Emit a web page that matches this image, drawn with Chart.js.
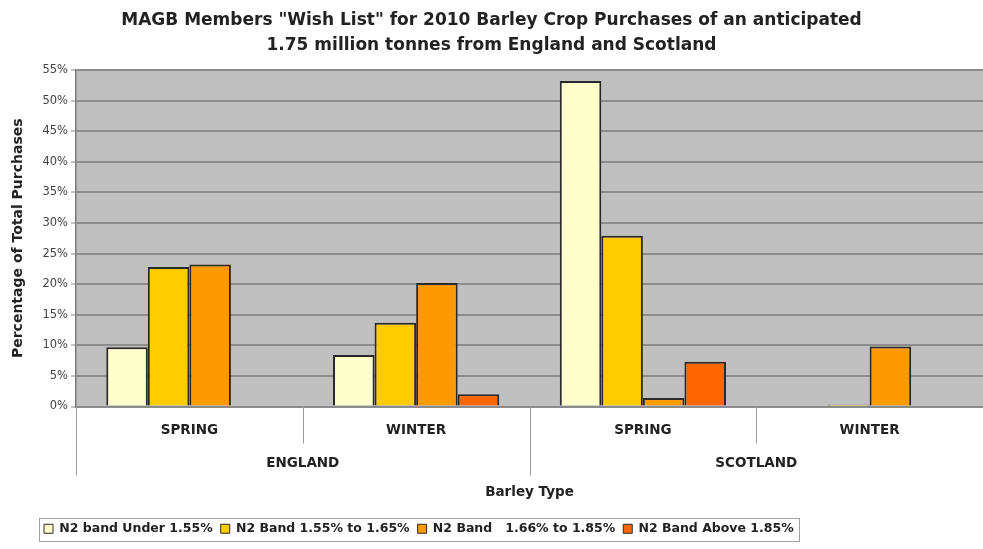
<!DOCTYPE html>
<html>
<head>
<meta charset="utf-8">
<script src="https://cdn.jsdelivr.net/npm/chart.js@4/dist/chart.umd.min.js"></script>
<style>
  html, body { margin: 0; padding: 0; background: #fff; overflow: hidden; }
  #wrap { width: 983px; height: 549px; position: relative; }
</style>
</head>
<body>
<div id="wrap"><canvas id="barley-chart"></canvas></div>
<script>
// Barley types (inner axis) and regions (outer axis)
const barleyTypes = ['SPRING', 'WINTER', 'SPRING', 'WINTER'];
const regions = ['ENGLAND', 'SCOTLAND'];

// Percentage of total purchases per N2 band
const under155 = [9.7, 8.4, 53.2, 0];
const band155to165 = [22.8, 13.7, 27.9, 0.3];
const band166to185 = [23.2, 20.2, 1.4, 9.8];
const above185 = [0, 2.0, 7.3, 0];

const seriesNames = ['N2 band Under 1.55%', 'N2 Band 1.55% to 1.65%', 'N2 Band   1.66% to 1.85%', 'N2 Band Above 1.85%'];
const seriesColors = ['#FFFFCC', '#FFCC00', '#FF9900', '#FF6600'];
const yMax = 55;
const yStep = 5;

const FONT = '"DejaVu Sans", "Liberation Sans", Arial, sans-serif';

// grey plot background + white page
const backgroundPlugin = {
    id: 'plotBackground',
    beforeDraw(chart) {
        const ctx = chart.ctx;
        const a = chart.chartArea;
        ctx.save();
        ctx.fillStyle = '#ffffff';
        ctx.fillRect(0, 0, chart.width, chart.height);
        ctx.fillStyle = '#C0C0C0';
        ctx.fillRect(a.left, a.top, a.right - a.left, a.bottom - a.top);
        ctx.restore();
    }
};

// category dividers below the axis + box round the legend
const dividerPlugin = {
    id: 'dividers',
    afterLayout(chart) {
        // legend sits left of centre in the original
        chart.legend.left += 36;
        chart.legend.right += 36;
    },
    afterDraw(chart) {
        const ctx = chart.ctx;
        const xs = chart.scales.x;
        const w = (xs.right - xs.left) / barleyTypes.length;
        ctx.save();
        ctx.strokeStyle = '#9a9a9a';
        ctx.lineWidth = 1;
        for (let i = 0; i <= barleyTypes.length; i++) {
            const px = Math.round(xs.left + i * w) + 0.5;
            const end = (i % 2 === 0) ? xs.bottom + 29 : xs.bottom - 3;
            ctx.beginPath();
            ctx.moveTo(px, chart.chartArea.bottom);
            ctx.lineTo(px, end);
            ctx.stroke();
        }
        const hb = chart.legend.legendHitBoxes;
        if (hb && hb.length) {
            const l = hb[0].left - 5;
            const r = hb[hb.length - 1].left + hb[hb.length - 1].width + 5;
            const t = hb[0].top - 5;
            const b = hb[0].top + hb[0].height + 5;
            ctx.strokeStyle = '#a0a0a0';
            ctx.strokeRect(Math.round(l) + 0.5, Math.round(t) + 0.5, Math.round(r - l), Math.round(b - t));
        }
        ctx.restore();
    }
};

const datasets = [under155, band155to165, band166to185, above185].map((values, i) => ({
    label: seriesNames[i],
    data: values,
    backgroundColor: seriesColors[i],
    borderColor: '#2a2a2a',
    borderWidth: 2,
    categoryPercentage: 0.733,
    barPercentage: 1.0
}));

const ctx = document.getElementById('barley-chart').getContext('2d');
new Chart(ctx, {
    type: 'bar',
    data: {
        labels: barleyTypes,
        datasets: datasets
    },
    plugins: [backgroundPlugin, dividerPlugin],
    options: {
        responsive: true,
        maintainAspectRatio: false,
        animation: false,
        layout: { padding: { left: 0, right: 0, top: 0, bottom: 4 } },
        plugins: {
            title: {
                display: true,
                text: ['MAGB Members "Wish List" for 2010 Barley Crop Purchases of an anticipated',
                       '1.75 million tonnes from England and Scotland'],
                color: '#222',
                font: { family: FONT, size: 17, weight: 'bold', lineHeight: 1.47 },
                padding: { top: 8, bottom: 12 }
            },
            legend: {
                position: 'bottom',
                align: 'start',
                labels: {
                    color: '#222',
                    font: { family: FONT, size: 12.5, weight: 'bold' },
                    boxWidth: 9,
                    boxHeight: 9,
                    padding: 8,
                    generateLabels(chart) {
                        return Chart.defaults.plugins.legend.labels.generateLabels(chart)
                            .map(l => Object.assign(l, { lineWidth: 1 }));
                    }
                }
            },
            tooltip: { enabled: false }
        },
        scales: {
            x: {
                offset: true,
                grid: { display: false, drawTicks: false },
                border: { display: false },
                ticks: {
                    color: '#222',
                    font: { family: FONT, size: 13.5, weight: 'bold' },
                    padding: 16,
                    maxRotation: 0,
                    autoSkip: false
                },
                afterFit: s => { s.height = 40; }
            },
            x2: {
                type: 'category',
                labels: regions,
                position: 'bottom',
                offset: true,
                grid: { display: false, drawTicks: false },
                border: { display: false },
                ticks: {
                    color: '#222',
                    font: { family: FONT, size: 13.5, weight: 'bold' },
                    padding: 9,
                    maxRotation: 0
                },
                title: {
                    display: true,
                    text: 'Barley Type',
                    color: '#222',
                    font: { family: FONT, size: 13.5, weight: 'bold' },
                    padding: { top: 4, bottom: 14 }
                },
                afterFit: s => { s.height = 68; }
            },
            y: {
                min: 0,
                max: yMax,
                ticks: {
                    stepSize: yStep,
                    color: '#444',
                    font: { family: FONT, size: 11.5 },
                    padding: 3,
                    callback: v => v + '%'
                },
                grid: {
                    color: '#8c8c8c',
                    lineWidth: 2,
                    drawTicks: true,
                    tickLength: 5,
                    tickColor: '#888',
                    tickWidth: 1
                },
                border: { color: '#7a7a7a', width: 1.5 },
                title: {
                    display: true,
                    text: 'Percentage of Total Purchases',
                    color: '#222',
                    font: { family: FONT, size: 14, weight: 'bold' },
                    padding: { top: 10, bottom: 4 }
                },
                afterFit: s => { s.width = 76; }
            }
        }
    }
});
</script>
</body>
</html>
